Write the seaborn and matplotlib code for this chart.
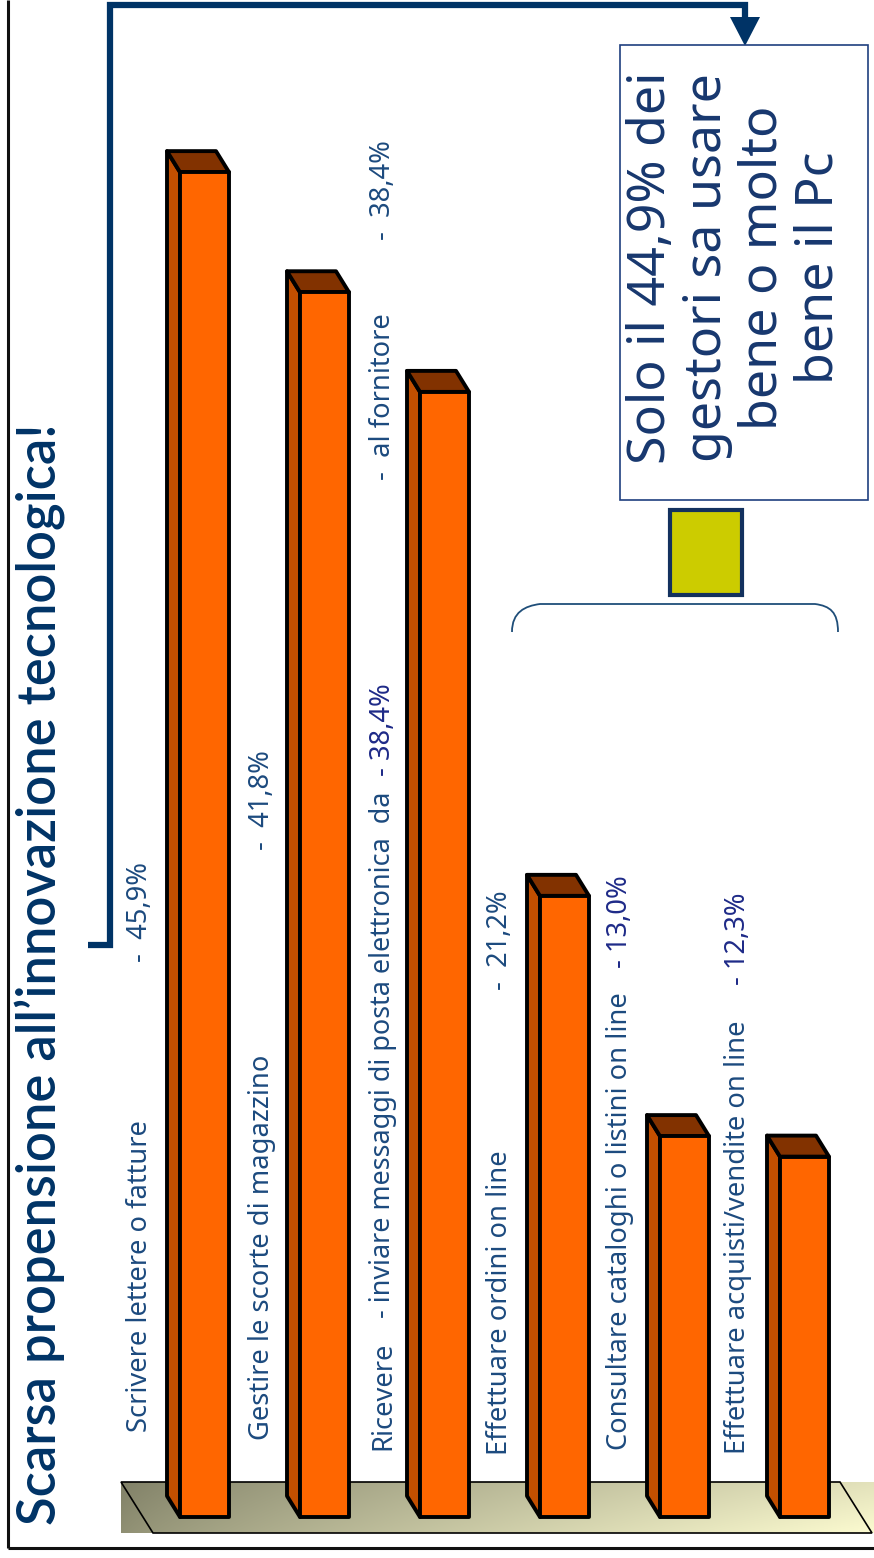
import numpy as np
import matplotlib
matplotlib.use("Agg")
import matplotlib.pyplot as plt
from matplotlib.patches import Polygon, Rectangle, PathPatch
from matplotlib.path import Path
import seaborn as sns

# ---------------- data ----------------
categories = ["Scrivere lettere o fatture", "Gestire le scorte di magazzino",
              "Ricevere - inviare messaggi di posta elettronica",
              "Effettuare ordini on line", "Consultare cataloghi o listini on line",
              "Effettuare acquisti/vendite on line"]
values = [45.9, 41.8, 38.4, 21.2, 13.0, 12.3]
value_labels = ["-  45,9%", "-  41,8%", "- 38,4%", "-  21,2%", "- 13,0%", "- 12,3%"]
title = "Scarsa propensione all\u2019innovazione tecnologica!"
box_text = "Solo il 44,9% dei\ngestori sa usare\nbene o molto\nbene il Pc"

W, H = 874, 1558
plt.rcParams['font.family'] = ['Noto Sans', 'DejaVu Sans']

fig = plt.figure(figsize=(W / 100, H / 100), dpi=100)
fig.patch.set_facecolor('white')

# background / annotation axes in pixel coordinates
bg = fig.add_axes([0, 0, 1, 1], zorder=0)
bg.axis('off')

# floor gradient
nx, ny = 300, 30
gx = np.linspace(0, 1, nx) ** 0.8
gy = np.linspace(0, 1, ny)[:, None]
c0 = np.array([143, 143, 115]) / 255
c1 = np.array([252, 251, 208]) / 255
img = c0[None, None, :] + (c1 - c0)[None, None, :] * gx[None, :, None]
img = img * (0.9 + 0.1 * gy)[:, :, None]
img = np.clip(img, 0, 1)
bg.imshow(img, extent=[121, 874, 1533, 1482], aspect='auto', zorder=0, interpolation='bilinear')
bg.add_patch(Polygon([(121, 1482), (840, 1482), (872, 1533), (153, 1533)], closed=True,
                     fill=False, edgecolor='black', lw=1.2, zorder=1))
bg.set_xlim(0, W)
bg.set_ylim(H, 0)

# frame
bg.plot([8, 8], [0, 1548], color='#111111', lw=2.2, solid_capstyle='butt')
bg.plot([8, 874], [1548, 1548], color='#111111', lw=2.2, solid_capstyle='butt')

# ---------------- bars ----------------
ax = fig.add_axes([0, 0, 1, 1], zorder=2)
ax.patch.set_alpha(0)
x0px, step, base, scale = 204.5, 120.0, 1517.0, 29.3
sns.barplot(x=categories, y=values, width=49 / step, color='#ff6600', saturation=1,
            edgecolor='black', linewidth=2.8, ax=ax, zorder=3)
ax.set_xlim(-x0px / step, (W - x0px) / step)
ax.set_ylim(-(H - base) / scale, base / scale)
ax.axis('off')

dxd, dyd = -13 / step, 21 / scale
for p in list(ax.patches):
    p.set_joinstyle('round')
    x = p.get_x(); w = p.get_width(); h = p.get_height()
    ax.add_patch(Polygon([(x, 0), (x, h), (x + dxd, h + dyd), (x + dxd, dyd)], closed=True,
                         facecolor='#c24f00', edgecolor='black', lw=2.8, zorder=2.5,
                         joinstyle='round'))
    ax.add_patch(Polygon([(x, h), (x + w, h), (x + w + dxd, h + dyd), (x + dxd, h + dyd)],
                         closed=True, facecolor='#823200', edgecolor='black', lw=2.8,
                         zorder=2.5, joinstyle='round'))

# ---------------- text ----------------
renderer = fig.canvas.get_renderer()


def fit(t, length):
    for _ in range(3):
        bb = t.get_window_extent(renderer)
        t.set_fontsize(t.get_fontsize() * length / bb.height)
    return t.get_fontsize()


BLUE = '#1c4a7e'
NAVY = '#1e2a88'

t = bg.text(40, 1525, title, rotation=90, ha='center', va='bottom', color='#003366',
            fontsize=28, fontweight='semibold', family=['Lato', 'Noto Sans', 'DejaVu Sans'])
fit(t, 1525 - 420)

# common label size from one reference label
ref = bg.text(0, 0, categories[4], rotation=90, fontsize=16)
lab_fs = fit(ref, 1450 - 993)
ref.remove()

label_pieces = [
    ("Scrivere lettere o fatture", 140, 1432, BLUE, None),
    (value_labels[0], 140, 962, BLUE, None),
    ("Gestire le scorte di magazzino", 262, 1440, BLUE, None),
    (value_labels[1], 262, 850, BLUE, None),
    ("Ricevere", 383, 1450, BLUE, None),
    ("- inviare messaggi di posta elettronica  da", 383, 1318, BLUE, 1318 - 792),
    (value_labels[2], 383, 776, NAVY, None),
    ("-  al fornitore", 383, 480, BLUE, None),
    ("-  38,4%", 383, 240, BLUE, None),
    ("Effettuare ordini on line", 500, 1455, BLUE, None),
    (value_labels[3], 500, 990, BLUE, None),
    ("Consultare cataloghi o listini on line", 620, 1450, BLUE, None),
    (value_labels[4], 620, 968, NAVY, None),
    ("Effettuare acquisti/vendite on line", 738, 1454, BLUE, None),
    (value_labels[5], 738, 985, NAVY, None),
]
for s, xc, yb, col, length in label_pieces:
    tt = bg.text(xc, yb, s, rotation=90, ha='center', va='bottom', color=col, fontsize=lab_fs)
    if length:
        fit(tt, length)

# connector arrow
bg.plot([88, 110, 110, 745, 745], [945, 945, 5, 5, 22], color='#003366', lw=4.5,
        solid_joinstyle='miter', solid_capstyle='butt')
bg.add_patch(Polygon([(730, 17), (760, 17), (745, 46)], closed=True, facecolor='#003366',
                     edgecolor='none'))

# text box
bg.add_patch(Rectangle((620, 45), 248, 455, facecolor='white', edgecolor='#1f3f7f', lw=1.2))
bt = bg.text(735, 268, box_text, rotation=90, ha='center', va='center', multialignment='center',
             color='#17376e', fontsize=30, linespacing=1.12)
bb = bt.get_window_extent(renderer)
bt.set_fontsize(bt.get_fontsize() * 392 / bb.height)

# yellow square
bg.add_patch(Rectangle((670, 510), 72, 85, facecolor='#cccc00', edgecolor='#13315e', lw=3))

# brace
bg.add_patch(PathPatch(Path([(512, 632), (512, 612), (525, 606), (540, 604),
                             (815, 604), (830, 606), (838, 612), (838, 632)],
                            [Path.MOVETO, Path.CURVE4, Path.CURVE4, Path.CURVE4,
                             Path.LINETO, Path.CURVE4, Path.CURVE4, Path.CURVE4]),
                       facecolor='none', edgecolor='#1f4e79', lw=1.3))

fig.savefig('out.png', dpi=100, facecolor='white')
